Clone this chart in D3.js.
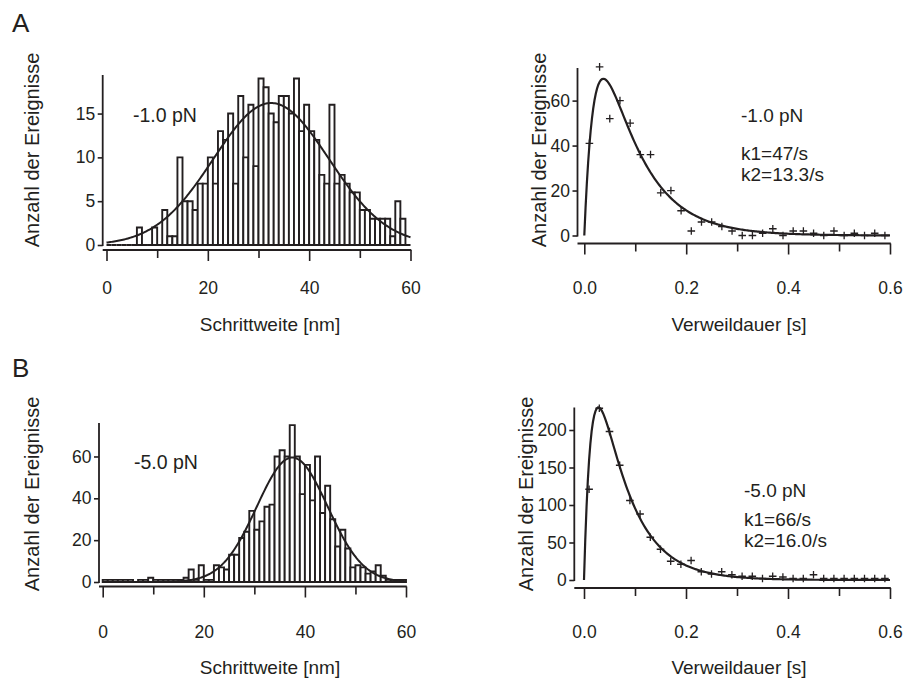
<!DOCTYPE html>
<html><head><meta charset="utf-8">
<script src="https://cdn.jsdelivr.net/npm/d3@7"></script>
<style>
body{margin:0;background:#fff}
svg{display:block}
text{font-family:"Liberation Sans",Arial,Helvetica,sans-serif;fill:#231f20}
</style>
</head><body>
<svg id="c" width="910" height="680"></svg>
<script>
// ---------- DATA ----------
// histogram bins: 1 nm wide, starting at 0..59 nm
const binStarts = d3.range(0, 60, 1);
const binWidth = 1;
// Panel A (-1.0 pN) step-size histogram counts
const histA = [0,0,0,0,0,0,2,0,0,2, 0,4,1,1,10,5,5,4,7,7,
               10,7,13,12,15,7,17,10,16,9, 19,18,15,14,17,17,15,19,13,16,
               13,12,8,7,16,7,8,7,6,6, 4,4,3,3,3,3,1,5,3,0];
// Panel B (-5.0 pN) step-size histogram counts
const histB = [1,1,1,1,1,1,0,1,1,2, 1,1,1,1,1,1,2,6,1,8,
               1,1,8,7,6,13,13,21,24,34, 25,29,36,37,60,63,60,75,60,42,
               56,39,60,33,46,30,17,25,16,7, 8,7,4,5,8,3,1,1,1,1];
// Gaussian fit parameters
const gaussA = {amp: 16.2, mu: 32.5, sigma: 11.4};
const gaussB = {amp: 59.5, mu: 37.5, sigma: 7.0};

// dwell-time histograms (bin centres in s)
const dwellTimes = [0.01,0.03,0.05,0.07,0.09,0.11,0.13,0.15,0.17,0.19,
                    0.21,0.23,0.25,0.27,0.29,0.31,0.33,0.35,0.37,0.39,
                    0.41,0.43,0.45,0.47,0.49,0.51,0.53,0.55,0.57,0.59];
const dwellA = [41,75,52,60,50,36,36,19,20,11, 2,6,6,4,2,0,0,1,3,0, 2,2,1,0,2,0,1,0,1,0];
const dwellB = [121,229,198,153,106,88,57,41,25,21, 26,11,8,11,7,5,5,2,5,4, 2,2,7,2,2,2,2,2,2,2];
// two-step kinetics fits  A*(exp(-k2 t) - exp(-k1 t))
const fitA = {amp: 160, k1: 47, k2: 13.3};
const fitB = {amp: 478, k1: 66, k2: 16.0};

// tick values / labels
const stepTicksMajor = [0,20,40,60];
const stepTicksMinor = [10,30,50];
const dwellTicksMajor = [0,0.2,0.4,0.6];
const dwellTicksMinor = [0.1,0.3,0.5];
const yTicksAleft = [0,5,10,15];
const yTicksAright = [0,20,40,60];
const yTicksBleft = [0,20,40,60];
const yTicksBright = [0,50,100,150,200];

const yLabel = "Anzahl der Ereignisse";
const xLabelStep = "Schrittweite [nm]";
const xLabelDwell = "Verweildauer [s]";
const forceA = "-1.0 pN", forceB = "-5.0 pN";
const kTextA = ["k1=47/s","k2=13.3/s"];
const kTextB = ["k1=66/s","k2=16.0/s"];

// ---------- DRAW ----------
const svg = d3.select("#c");
const INK = "#231f20";

function axes(g, cfg){
  const {x, y, yAxisX, xAxisY, xMajor, xMinor, yTicks, xFmt, tickBaseline} = cfg;
  g.append("line").attr("x1",yAxisX).attr("x2",yAxisX)
    .attr("y1",y.range()[1]).attr("y2",y.range()[0]+1)
    .attr("stroke",INK).attr("stroke-width",1.8);
  const yAx = d3.axisLeft(y).tickValues(yTicks).tickSize(5).tickSizeOuter(0).tickPadding(2.5);
  const yg = g.append("g").attr("transform",`translate(${yAxisX},0)`).call(yAx);
  yg.select(".domain").remove();
  yg.selectAll(".tick line").attr("stroke",INK).attr("stroke-width",1.6);
  yg.selectAll(".tick text").attr("font-size",17.5).attr("fill",INK)
     .attr("font-family","Liberation Sans, Arial, sans-serif");
  g.append("line").attr("x1",yAxisX).attr("x2",x.range()[1]+0.8)
    .attr("y1",xAxisY).attr("y2",xAxisY).attr("stroke",INK).attr("stroke-width",1.8);
  const xAx = d3.axisBottom(x).tickValues(xMajor).tickSize(11).tickSizeOuter(0)
     .tickFormat(xFmt).tickPadding(4);
  const xg = g.append("g").attr("transform",`translate(0,${xAxisY})`).call(xAx);
  xg.select(".domain").remove();
  xg.selectAll(".tick line").attr("stroke",INK).attr("stroke-width",1.6);
  xg.selectAll(".tick text").attr("font-size",17.5).attr("fill",INK)
     .attr("font-family","Liberation Sans, Arial, sans-serif")
     .attr("dy",null).attr("y", tickBaseline - xAxisY);
  const xm = d3.axisBottom(x).tickValues(xMinor).tickSize(8).tickSizeOuter(0).tickFormat("");
  const xmg = g.append("g").attr("transform",`translate(0,${xAxisY})`).call(xm);
  xmg.select(".domain").remove();
  xmg.selectAll(".tick line").attr("stroke",INK).attr("stroke-width",1.6);
}

function histPanel(cfg){
  const g = svg.append("g");
  const x = d3.scaleLinear().domain([0,60]).range(cfg.xr);
  const y = d3.scaleLinear().domain(cfg.yd).range(cfg.yr);
  g.append("g").selectAll("path").data(cfg.counts).join("path")
    .attr("d",(d,i)=>{
      const x0 = x(binStarts[i]), x1 = x(binStarts[i]+binWidth);
      const y0 = y(0), y1 = y(d);
      return `M${x0},${y0}V${y1}H${x1}V${y0}Z`;
    })
    .attr("fill","#fff").attr("stroke",INK).attr("stroke-width",1.9)
    .attr("stroke-linejoin","miter");
  const gp = cfg.gauss;
  const xs = d3.range(0, 60.001, 0.25);
  const line = d3.line().x(d=>x(d)).y(d=>y(gp.amp*Math.exp(-((d-gp.mu)**2)/(2*gp.sigma*gp.sigma))));
  g.append("path").attr("d",line(xs)).attr("fill","none").attr("stroke",INK).attr("stroke-width",2);
  axes(g,{x,y,yAxisX:cfg.yAxisX,xAxisY:cfg.xAxisY,xMajor:stepTicksMajor,xMinor:stepTicksMinor,
          yTicks:cfg.yTicks,xFmt:d3.format("d"),tickBaseline:cfg.tickBaseline});
  g.append("text").attr("x",cfg.forcePos[0]).attr("y",cfg.forcePos[1]).attr("font-size",19.5).text(cfg.force);
  return g;
}

function dwellPanel(cfg){
  const g = svg.append("g");
  const x = d3.scaleLinear().domain([0,0.6]).range(cfg.xr);
  const y = d3.scaleLinear().domain(cfg.yd).range(cfg.yr);
  const f = cfg.fit;
  const ts = d3.range(0, 0.6001, 0.0025);
  const line = d3.line().x(d=>x(d)).y(d=>y(f.amp*(Math.exp(-f.k2*d)-Math.exp(-f.k1*d))));
  g.append("path").attr("d",line(ts)).attr("fill","none").attr("stroke",INK).attr("stroke-width",2.2);
  g.append("g").selectAll("path").data(cfg.values).join("path")
    .attr("transform",(d,i)=>`translate(${x(dwellTimes[i])},${y(d)})`)
    .attr("d","M-3.8,0H3.8M0,-3.8V3.8")
    .attr("stroke",INK).attr("stroke-width",1.3).attr("fill","none");
  axes(g,{x,y,yAxisX:cfg.yAxisX,xAxisY:cfg.xAxisY,xMajor:dwellTicksMajor,xMinor:dwellTicksMinor,
          yTicks:cfg.yTicks,xFmt:d3.format(".1f"),tickBaseline:cfg.tickBaseline});
  g.append("text").attr("x",cfg.textX).attr("y",cfg.textY[0]).attr("font-size",19).text(cfg.force);
  g.append("text").attr("x",cfg.textX).attr("y",cfg.textY[1]).attr("font-size",19).text(cfg.k[0]);
  g.append("text").attr("x",cfg.textX).attr("y",cfg.textY[2]).attr("font-size",19).text(cfg.k[1]);
  return g;
}

histPanel({counts:histA, gauss:gaussA, xr:[106.5,410.5], yr:[245,75], yd:[0,19.4],
  yAxisX:102.7, xAxisY:250, yTicks:yTicksAleft, tickBaseline:294, force:forceA, forcePos:[133,122]});
dwellPanel({values:dwellA, fit:fitA, xr:[584.3,890], yr:[235.5,68], yd:[0,74.5],
  yAxisX:577.5, xAxisY:243.5, yTicks:yTicksAright, tickBaseline:294,
  force:forceA, k:kTextA, textX:741, textY:[122,160,181]});
histPanel({counts:histB, gauss:gaussB, xr:[102.7,406], yr:[582,423], yd:[0,76],
  yAxisX:99, xAxisY:586.5, yTicks:yTicksBleft, tickBaseline:638, force:forceB, forcePos:[134,469]});
dwellPanel({values:dwellB, fit:fitB, xr:[584,890], yr:[580,407.5], yd:[0,230],
  yAxisX:574.3, xAxisY:588, yTicks:yTicksBright, tickBaseline:638,
  force:forceB, k:kTextB, textX:744, textY:[497,526,547]});

function ytitle(x, yc, t){
  svg.append("text").attr("transform",`translate(${x},${yc}) rotate(-90)`)
    .attr("text-anchor","middle").attr("font-size",20).text(t);
}
function xtitle(xc, y, t){
  svg.append("text").attr("x",xc).attr("y",y).attr("text-anchor","middle").attr("font-size",19).text(t);
}
ytitle(39,150,yLabel); ytitle(546,150,yLabel);
ytitle(39,494,yLabel); ytitle(533,494,yLabel);
xtitle(270,331,xLabelStep); xtitle(739,331,xLabelDwell);
xtitle(270,674,xLabelStep); xtitle(739,674,xLabelDwell);

svg.append("text").attr("x",12).attr("y",32).attr("font-size",26)
  .attr("font-family","DejaVu Sans, sans-serif").style("font-weight",200).text("A");
svg.append("text").attr("x",12).attr("y",377).attr("font-size",26)
  .attr("font-family","DejaVu Sans, sans-serif").style("font-weight",200).text("B");
</script>
</body></html>
